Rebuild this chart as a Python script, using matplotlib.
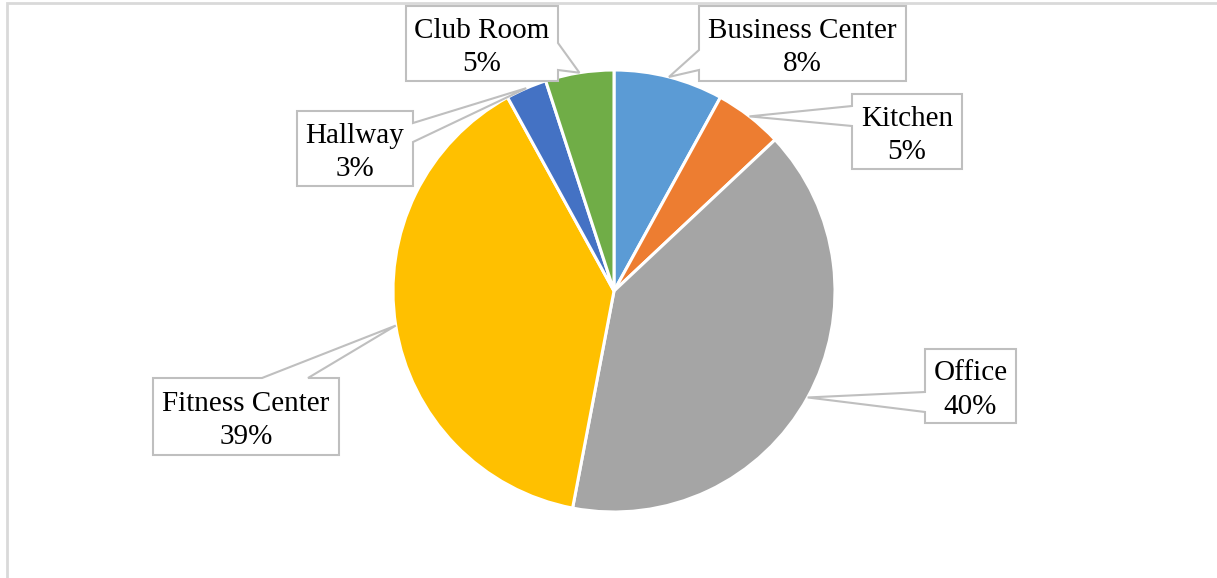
import numpy as np
import matplotlib.pyplot as plt
from matplotlib.patches import Polygon

labels = ["Business Center", "Kitchen", "Office", "Fitness Center", "Hallway", "Club Room"]
shares = [8, 5, 40, 39, 3, 5]
colors = ["#5B9BD5", "#ED7D31", "#A5A5A5", "#FFC000", "#4472C4", "#70AD47"]

W, H = 1217, 578
cx, cy, r = 614, 291, 221

# callout boxes in pixel coords: x0, y0, x1, y1, side the pointer leaves from, pointer base span
callouts = {
    "Business Center": (699, 6, 906, 81, "left", (50, 70)),
    "Kitchen": (852, 94, 962, 169, "left", (106, 126)),
    "Office": (925, 349, 1016, 423, "left", (392, 412)),
    "Fitness Center": (153, 378, 339, 455, "top", (262, 308)),
    "Hallway": (297, 111, 413, 186, "right", (123, 142)),
    "Club Room": (406, 6, 558, 81, "right", (43, 70)),
}

plt.rcParams["font.family"] = ["Liberation Serif", "DejaVu Serif"]

fig = plt.figure(figsize=(W / 100, H / 100), dpi=100)
ax = fig.add_axes([0, 0, 1, 1])


def py(y):
    return H - y


ax.pie(shares, colors=colors, startangle=90, counterclock=False,
       center=(cx, py(cy)), radius=r,
       wedgeprops=dict(edgecolor="white", linewidth=2.2))

total = sum(shares)
cum = 0
for lab, val in zip(labels, shares):
    mid = (cum + val / 2) / total * 2 * np.pi
    cum += val
    tip = (cx + r * np.sin(mid), cy - r * np.cos(mid))
    x0, y0, x1, y1, side, (b0, b1) = callouts[lab]
    if side == "right":
        pts = [(x0, y0), (x1, y0), (x1, b0), tip, (x1, b1), (x1, y1), (x0, y1)]
    elif side == "left":
        pts = [(x0, y0), (x1, y0), (x1, y1), (x0, y1), (x0, b1), tip, (x0, b0)]
    else:
        pts = [(x0, y0), (b0, y0), tip, (b1, y0), (x1, y0), (x1, y1), (x0, y1)]
    pts = [(x, py(y)) for x, y in pts]
    ax.add_patch(Polygon(pts, closed=True, facecolor="white",
                         edgecolor="#BFBFBF", linewidth=1.5, zorder=3))
    ax.text((x0 + x1) / 2, py((y0 + y1) / 2 + 4), f"{lab}\n{val}%",
            ha="center", va="center", fontsize=21, linespacing=1.38,
            color="black", zorder=4)

# chart area frame, only left and top edges fall inside the image
ax.plot([7, 7, W + 5], [py(H + 5), py(3), py(3)], color="#D9D9D9", linewidth=2,
        solid_joinstyle="miter")

ax.set_xlim(0, W)
ax.set_ylim(0, H)
ax.set_aspect("auto")
ax.axis("off")

fig.savefig("out.png", dpi=100)
